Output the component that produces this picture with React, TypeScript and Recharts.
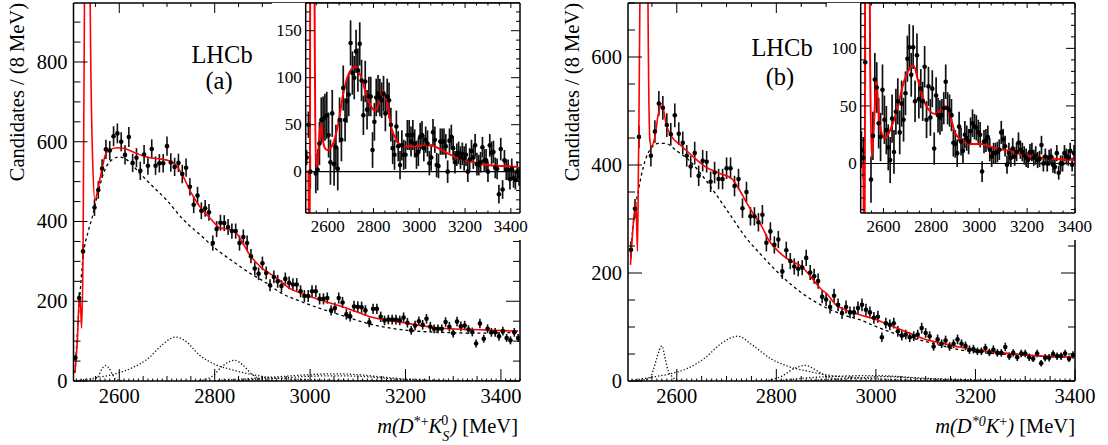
import { ComposedChart, Line, XAxis, YAxis, ErrorBar, ReferenceLine } from 'recharts'

const WIDTH = 1108
const HEIGHT = 445
const SERIF = '"Liberation Serif", serif'

// bin centres are 8 MeV apart, null = off scale
const BIN_START = 2508
const BIN_STEP = 8

// panel (a), D*+ Ks
const countsA = [58,208,325,null,null,435,479,533,581,578,614,621,600,567,612,547,560,527,568,540,582,540,546,546,589,548,537,547,519,535,487,442,465,427,433,423,346,381,397,396,386,376,376,346,361,346,313,282,269,295,271,240,261,250,238,256,246,242,242,225,213,213,225,225,206,206,208,177,183,208,197,167,162,187,186,185,177,147,181,181,161,152,154,154,154,152,159,146,127,139,150,141,156,136,131,131,131,148,136,120,149,137,139,129,123,94,144,106,131,122,122,112,125,108,102,122,108]
const errorsA = [8,14,18,null,null,21,22,23,24,24,25,25,24,24,25,23,24,23,24,23,24,23,23,23,24,23,23,23,23,23,22,21,22,21,21,21,19,20,20,20,20,19,19,19,19,19,18,17,16,17,16,15,16,16,15,16,16,16,16,15,15,15,15,15,14,14,14,13,14,14,14,13,13,14,14,14,13,12,13,13,13,12,12,12,12,12,13,12,11,12,12,12,12,12,11,11,11,12,12,11,12,12,12,11,11,10,12,10,11,11,11,11,11,10,10,11,10]
const subtractedA = [15,50,0,null,null,-2,2,30,55,56,58,60,39,10,62,8,26,3,55,34,89,55,75,82,137,105,100,128,108,136,97,60,96,66,80,80,23,53,79,83,79,76,83,62,80,76,50,25,18,48,27,7,28,18,18,39,39,32,39,30,18,21,37,39,25,34,30,9,15,42,34,7,6,32,32,32,27,0,33,37,25,10,18,20,15,19,14,18,0,13,22,15,28,8,7,10,26,12,12,0,28,20,21,4,3,-24,24,-19,12,2,2,-8,3,-7,-9,0,-5]

const fitA = [[2507,20],[2512,100],[2516,200],[2518,206],[2521,133],[2524,321],[2527,950],[2530,2200],[2533,2600],[2536,2000],[2539,950],[2544,560],[2549,454],[2556,487],[2564,533],[2572,571],[2580,579],[2594,585],[2611,583],[2628,575],[2657,562],[2685,557],[2706,552],[2720,540],[2733,515],[2751,471],[2769,437],[2793,405],[2811,384],[2832,380],[2846,370],[2859,346],[2873,317],[2888,296],[2900,282],[2915,270],[2930,258],[2957,233],[2988,217],[3020,204],[3076,183],[3124,162],[3196,146],[3268,133],[3340,129],[3436,125]]
const bkgA = [[2507,20],[2517,208],[2524,309],[2535,376],[2542,405],[2556,475],[2567,521],[2580,550],[2600,562],[2614,556],[2643,521],[2671,487],[2699,454],[2734,405],[2769,367],[2804,330],[2838,300],[2873,271],[2908,246],[2936,223],[2988,196],[3060,167],[3132,141],[3204,127],[3276,122],[3348,120],[3436,122]]
const compsA = [
  [[2530,0],[2545,2],[2556,12],[2565,33],[2572,39],[2578,33],[2586,16],[2592,5],[2610,0]],
  [[2510,1],[2550,8],[2592,18],[2627,33],[2662,58],[2690,91],[2718,110],[2739,100],[2767,66],[2802,41],[2837,28],[2879,16],[2921,8],[3000,3],[3100,1],[3438,0]],
  [[2767,1],[2795,12],[2816,37],[2842,52],[2858,41],[2879,16],[2900,3],[2930,0]],
  [[2800,1],[2900,8],[2950,12],[3000,16],[3050,18],[3100,16],[3150,10],[3200,5],[3300,1],[3438,0]],
  [[2850,2],[2950,8],[3000,12],[3050,13],[3100,12],[3200,3],[3300,0]],
]
const insetFitA = [[2508,0],[2514,0],[2516,-3],[2518,-60],[2520,-100],[2522,-100],[2524,300],[2540,300],[2544,120],[2548,5],[2556,10],[2563,35],[2570,51],[2578,35],[2586,26],[2598,23],[2624,30],[2646,51],[2668,83],[2690,103],[2722,112],[2748,99],[2777,76],[2806,65],[2828,76],[2842,86],[2857,76],[2879,46],[2900,34],[2930,27],[2973,27],[3039,28],[3075,26],[3119,20],[3177,14],[3221,11],[3293,7],[3366,6],[3432,5]]

// panel (b), D*0 K+
const countsB = [243,319,452,null,null,417,462,514,506,474,457,492,458,441,417,397,422,380,408,406,369,386,374,374,394,394,361,374,320,350,305,305,294,308,256,277,252,262,203,242,222,212,208,210,228,201,194,185,156,151,137,158,141,126,137,127,127,135,141,132,127,117,119,81,107,104,107,92,84,86,81,83,86,98,89,83,64,77,69,75,64,69,77,69,65,58,59,55,55,61,53,58,52,52,63,46,52,44,51,51,44,41,51,33,43,43,50,46,46,51,41,48]
const errorsB = [16,18,21,null,null,20,21,23,22,22,21,22,21,21,20,20,21,19,20,20,19,20,19,19,20,20,19,19,18,19,17,17,17,18,16,17,16,16,14,16,15,15,14,14,15,14,14,14,12,12,12,13,12,11,12,11,11,12,12,11,11,11,11,9,10,10,10,10,9,9,9,9,9,10,9,9,8,9,8,9,8,8,9,8,8,8,8,7,7,8,7,8,7,7,8,7,7,7,7,7,7,6,7,6,7,7,7,7,7,7,6,7]
const subtractedB = [12,5,88,null,null,-14,24,73,66,35,23,64,38,29,14,3,39,10,45,54,27,52,38,61,91,101,77,101,54,94,56,65,54,84,38,67,40,65,13,59,42,40,42,48,71,48,46,42,18,17,9,32,19,11,25,22,19,28,35,32,31,27,25,-7,19,20,23,12,6,9,9,10,12,27,21,15,-1,9,5,13,6,10,18,12,10,7,5,3,10,10,5,7,3,4,16,0,6,0,5,6,-1,-3,9,-8,0,0,9,6,5,11,-1,9]

const fitB = [[2507,215],[2514,305],[2518,330],[2521,240],[2523,400],[2526,720],[2530,2200],[2534,2600],[2538,2000],[2542,720],[2546,446],[2549,434],[2556,452],[2563,495],[2570,514],[2579,474],[2590,452],[2607,437],[2630,418],[2657,397],[2684,385],[2710,375],[2724,357],[2741,329],[2757,305],[2771,286],[2784,262],[2804,240],[2824,225],[2851,212],[2871,191],[2891,169],[2900,163],[2920,141],[2940,131],[2966,123],[3000,114],[3034,101],[3067,89],[3100,77],[3134,70],[3167,63],[3201,58],[3234,54],[3268,51],[3335,46],[3399,44]]
const bkgB = [[2507,237],[2516,317],[2523,354],[2533,397],[2546,428],[2563,440],[2577,440],[2600,426],[2623,410],[2650,382],[2677,348],[2704,312],[2737,268],[2771,232],[2811,194],[2851,163],[2891,140],[2933,123],[2966,114],[3000,101],[3034,89],[3067,81],[3100,73],[3134,65],[3167,58],[3201,54],[3234,51],[3268,49],[3335,46],[3399,44]]
const compsB = [
  [[2520,0],[2546,6],[2553,21],[2560,43],[2570,65],[2577,40],[2583,18],[2590,9],[2600,2],[2620,0]],
  [[2510,1],[2550,7],[2590,14],[2623,24],[2657,43],[2690,70],[2723,83],[2751,67],[2791,40],[2824,27],[2864,18],[2911,10],[3000,4],[3100,1],[3398,0]],
  [[2784,1],[2811,9],[2838,24],[2858,29],[2878,21],[2898,10],[2918,4],[2950,0]],
  [[2800,0],[2900,8],[3000,10],[3100,5],[3200,2],[3398,0]],
  [[2850,0],[2950,5],[3020,8],[3100,4],[3200,1],[3398,0]],
]
const insetFitB = [[2508,0],[2516,0],[2518,-60],[2520,-100],[2522,-100],[2524,300],[2540,300],[2544,100],[2551,5],[2562,40],[2570,73],[2580,43],[2593,26],[2607,22],[2628,29],[2656,46],[2684,70],[2705,81],[2726,85],[2746,71],[2774,52],[2816,43],[2837,46],[2858,50],[2879,41],[2900,26],[2928,20],[2956,17],[3012,17],[3054,14],[3124,11],[3193,7],[3263,5],[3400,3]]

const xLabels = [2600, 2800, 3000, 3200, 3400]
const yLabelsA = [0, 200, 400, 600, 800]
const yLabelsB = [0, 200, 400, 600]
const insetLabelsA = [0, 50, 100, 150]
const insetLabelsB = [0, 50, 100]

const range = (from: number, to: number, step: number) => {
  const out: number[] = []
  for (let v = from; v <= to; v += step) out.push(v)
  return out
}

const toPoints = (values: (number | null)[], errors: (number | null)[]) =>
  values
    .map((y, i) => ({ x: BIN_START + i * BIN_STEP, y, e: errors[i] }))
    .filter((p) => p.y !== null)

const toCurve = (pairs: number[][]) => pairs.map(([x, y]) => ({ x, y }))

// ROOT style ticks: they point into the frame
function makeTick(side: string, labels: number[], lengthOf: (v: number) => number, fontSize: number, gap: number) {
  return (props: any) => {
    const { x, y, payload } = props
    const v = payload.value
    const len = lengthOf(v)
    const labelled = labels.includes(v)
    if (side === 'bottom' || side === 'top') {
      const dir = side === 'bottom' ? -1 : 1
      return (
        <g>
          <line x1={x} y1={y} x2={x} y2={y + dir * len} stroke="#000" strokeWidth={1} />
          {side === 'bottom' && labelled && (
            <text x={x} y={y + gap} textAnchor="middle" fontFamily={SERIF} fontSize={fontSize} fill="#000">{v}</text>
          )}
        </g>
      )
    }
    const dir = side === 'left' ? 1 : -1
    return (
      <g>
        <line x1={x} y1={y} x2={x + dir * len} y2={y} stroke="#000" strokeWidth={1} />
        {side === 'left' && labelled && (
          <text x={x - gap} y={y + fontSize * 0.33} textAnchor="end" fontFamily={SERIF} fontSize={fontSize} fill="#000">{v}</text>
        )}
      </g>
    )
  }
}

interface PanelProps {
  rect: { l: number; t: number; r: number; b: number }
  xDomain: number[]
  yDomain: number[]
  xTicks: number[]
  xTicksTop: number[]
  yTicks: number[]
  xLabelled: number[]
  yLabelled: number[]
  xLen: (v: number) => number
  xLenTop: (v: number) => number
  yLen: (v: number) => number
  fontSize: number
  xGap: number
  yGap: number
  frame: number
  barWidth: number
  fitWidth: number
  points: any[]
  fit: number[][]
  bkg?: number[][]
  comps?: number[][][]
  zeroLine?: boolean
}

function Panel(p: PanelProps) {
  const axisLine = { stroke: '#000', strokeWidth: p.frame }
  return (
    <ComposedChart
      width={WIDTH}
      height={HEIGHT}
      margin={{ left: p.rect.l - 1, top: p.rect.t - 1, right: WIDTH - p.rect.r - 1, bottom: HEIGHT - p.rect.b - 1 }}
    >
      <XAxis xAxisId={0} dataKey="x" type="number" domain={p.xDomain} allowDataOverflow ticks={p.xTicks} interval={0} height={1} tickSize={0} tickMargin={0} tickLine={false} axisLine={axisLine}
        tick={makeTick('bottom', p.xLabelled, p.xLen, p.fontSize, p.xGap)} />
      <XAxis xAxisId="top" orientation="top" dataKey="x" type="number" domain={p.xDomain} allowDataOverflow ticks={p.xTicksTop} interval={0} height={1} tickSize={0} tickMargin={0} tickLine={false} axisLine={axisLine}
        tick={makeTick('top', [], p.xLenTop, p.fontSize, 0)} />
      <YAxis yAxisId={0} type="number" domain={p.yDomain} allowDataOverflow ticks={p.yTicks} interval={0} width={1} tickSize={0} tickMargin={0} tickLine={false} axisLine={axisLine}
        tick={makeTick('left', p.yLabelled, p.yLen, p.fontSize, p.yGap)} />
      <YAxis yAxisId="right" orientation="right" type="number" domain={p.yDomain} allowDataOverflow ticks={p.yTicks} interval={0} width={1} tickSize={0} tickMargin={0} tickLine={false} axisLine={axisLine}
        tick={makeTick('right', [], p.yLen, p.fontSize, 0)} />
      {p.zeroLine && <ReferenceLine y={0} stroke="#000" strokeWidth={1.2} />}
      {(p.comps ?? []).map((c, i) => (
        <Line key={i} data={toCurve(c)} dataKey="y" type="monotone" dot={false} stroke="#111" strokeWidth={1.3} strokeDasharray="1.3 2" isAnimationActive={false} />
      ))}
      {p.bkg && (
        <Line data={toCurve(p.bkg)} dataKey="y" type="monotone" dot={false} stroke="#000" strokeWidth={1.3} strokeDasharray="3 3" isAnimationActive={false} />
      )}
      <Line data={p.points} dataKey="y" stroke="none" dot={{ r: 2.3, fill: '#000', stroke: 'none' }} isAnimationActive={false}>
        <ErrorBar dataKey="e" direction="y" width={0} stroke="#111" strokeWidth={p.barWidth} isAnimationActive={false} />
      </Line>
      <Line data={toCurve(p.fit)} dataKey="y" type="monotone" dot={false} stroke="#f00" strokeWidth={p.fitWidth} isAnimationActive={false} />
    </ComposedChart>
  )
}

const layer: React.CSSProperties = { position: 'absolute', left: 0, top: 0 }

const mainXLen = (v: number) => (v % 200 === 0 ? 12 : v % 50 === 0 ? 5 : 2.5)
const mainXLenTop = (v: number) => (v % 200 === 0 ? 10 : 4)
const mainYLen = (v: number) => (v % 200 === 0 ? 14 : 7)
const insetXLen = (v: number) => (v % 200 === 0 ? 5 : 2.5)
const insetYLen = (v: number) => (v % 50 === 0 ? 9 : 4)

export default function App() {
  const mainA = { l: 73.5, t: 3, r: 520, b: 381 }
  const mainB = { l: 628, t: 3, r: 1075, b: 381 }
  const boxA = { l: 305.7, t: 3, r: 520, b: 213 }
  const boxB = { l: 860.7, t: 3, r: 1075, b: 213 }
  // the insets sit on a white pad that also hides the main frame behind their labels
  const padA = { left: 272, top: 3, width: 249, height: 237 }
  const padB = { left: 827, top: 3, width: 249, height: 237 }
  const title = { fontFamily: SERIF, fontSize: 20.5, fill: '#000' }
  const small = { fontSize: 14 }
  return (
    <div style={{ position: 'absolute', left: 0, top: 0, width: WIDTH, height: HEIGHT, background: '#fff', overflow: 'hidden' }}>
      <div style={layer}>
        <Panel rect={mainA} xDomain={[2504, 3440]} yDomain={[0, 948]} xTicks={range(2510, 3440, 10)} xTicksTop={range(2550, 3400, 50)} yTicks={range(0, 900, 50)}
          xLabelled={xLabels} yLabelled={yLabelsA} xLen={mainXLen} xLenTop={mainXLenTop} yLen={mainYLen} fontSize={20.5} xGap={22} yGap={6} frame={1.5} barWidth={1.6} fitWidth={1.6}
          points={toPoints(countsA, errorsA)} fit={fitA} bkg={bkgA} comps={compsA} />
      </div>
      <div style={layer}>
        <Panel rect={mainB} xDomain={[2502, 3400]} yDomain={[0, 700]} xTicks={range(2510, 3400, 10)} xTicksTop={range(2550, 3400, 50)} yTicks={range(0, 650, 50).concat(700)}
          xLabelled={xLabels} yLabelled={yLabelsB} xLen={mainXLen} xLenTop={mainXLenTop} yLen={mainYLen} fontSize={20.5} xGap={22} yGap={6} frame={1.5} barWidth={1.6} fitWidth={1.6}
          points={toPoints(countsB, errorsB)} fit={fitB} bkg={bkgB} comps={compsB} />
      </div>
      <div style={{ ...layer, ...padA, background: '#fff' }} />
      <div style={{ ...layer, ...padB, background: '#fff' }} />
      <div style={layer}>
        <Panel rect={boxA} xDomain={[2504, 3440]} yDomain={[-44, 179.5]} xTicks={range(2550, 3400, 50)} xTicksTop={range(2550, 3400, 50)} yTicks={range(-40, 170, 10)}
          xLabelled={xLabels} yLabelled={insetLabelsA} xLen={insetXLen} xLenTop={insetXLen} yLen={insetYLen} fontSize={17} xGap={18.5} yGap={4} frame={1.5} barWidth={1.7} fitWidth={2}
          points={toPoints(subtractedA, errorsA)} fit={insetFitA} zeroLine />
      </div>
      <div style={layer}>
        <Panel rect={boxB} xDomain={[2505, 3400]} yDomain={[-43, 139.4]} xTicks={range(2550, 3400, 50)} xTicksTop={range(2550, 3400, 50)} yTicks={range(-40, 130, 10)}
          xLabelled={xLabels} yLabelled={insetLabelsB} xLen={insetXLen} xLenTop={insetXLen} yLen={insetYLen} fontSize={17} xGap={18.5} yGap={4} frame={1.5} barWidth={1.7} fitWidth={2}
          points={toPoints(subtractedB, errorsB)} fit={insetFitB} zeroLine />
      </div>
      <svg width={WIDTH} height={HEIGHT} style={layer}>
        <text transform="translate(24,3) rotate(-90)" textAnchor="end" {...title}>Candidates / (8 MeV)</text>
        <text transform="translate(579,3) rotate(-90)" textAnchor="end" {...title}>Candidates / (8 MeV)</text>
        <text x={222} y={63} textAnchor="middle" fontFamily={SERIF} fontSize={24.5}>LHCb</text>
        <text x={219} y={89} textAnchor="middle" fontFamily={SERIF} fontSize={24.5}>(a)</text>
        <text x={782} y={56} textAnchor="middle" fontFamily={SERIF} fontSize={24.5}>LHCb</text>
        <text x={780} y={85} textAnchor="middle" fontFamily={SERIF} fontSize={24.5}>(b)</text>
        <text x={518} y={433} textAnchor="end" {...title}>
          <tspan fontStyle="italic">m(D</tspan>
          <tspan dy={-7} {...small}>*+</tspan>
          <tspan dy={7} fontStyle="italic">K</tspan>
          <tspan dy={8} {...small} fontStyle="italic">S</tspan>
          <tspan dy={-16} dx={-8} {...small}>0</tspan>
          <tspan dy={8} dx={2} fontStyle="italic">)</tspan>
          <tspan> [MeV]</tspan>
        </text>
        <text x={1075} y={433} textAnchor="end" {...title}>
          <tspan fontStyle="italic">m(D</tspan>
          <tspan dy={-7} {...small} fontStyle="italic">*0</tspan>
          <tspan dy={7} fontStyle="italic">K</tspan>
          <tspan dy={-7} {...small}>+</tspan>
          <tspan dy={7} fontStyle="italic">)</tspan>
          <tspan> [MeV]</tspan>
        </text>
      </svg>
    </div>
  )
}
